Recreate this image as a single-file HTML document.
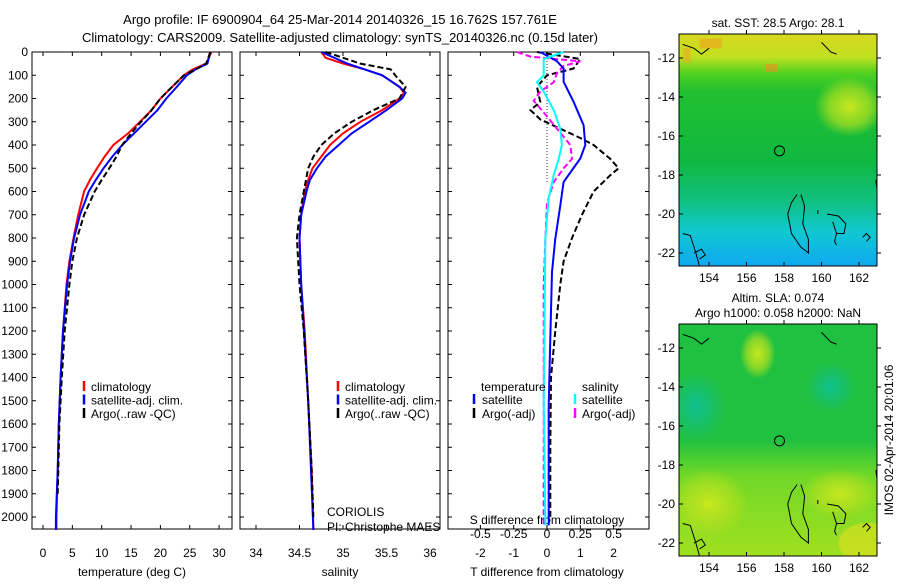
<!DOCTYPE html>
<html><head><meta charset="utf-8"><style>
body{margin:0;background:#fff}
svg{font-family:"Liberation Sans",sans-serif;font-size:12px}
</style></head><body>
<svg id="c" width="900" height="580" viewBox="0 0 900 580">
<defs>
<linearGradient id="sst" x1="0" y1="0" x2="0" y2="1">
<stop offset="0" stop-color="#d8d820"/><stop offset="0.1" stop-color="#c0e020"/><stop offset="0.17" stop-color="#50d020"/>
<stop offset="0.25" stop-color="#20c030"/><stop offset="0.55" stop-color="#10b840"/><stop offset="0.72" stop-color="#10c080"/>
<stop offset="0.85" stop-color="#10c8d0"/><stop offset="1" stop-color="#10a8f0"/></linearGradient>
<radialGradient id="yl1" cx="0.5" cy="0.5" r="0.5"><stop offset="0" stop-color="#c8e820"/><stop offset="0.6" stop-color="#b0e020" stop-opacity="0.7"/><stop offset="1" stop-color="#b0e020" stop-opacity="0"/></radialGradient>
<radialGradient id="tl1" cx="0.5" cy="0.5" r="0.5"><stop offset="0" stop-color="#10c090"/><stop offset="1" stop-color="#10c090" stop-opacity="0"/></radialGradient>
<linearGradient id="sla" x1="0" y1="0" x2="0" y2="1">
<stop offset="0" stop-color="#20c040"/><stop offset="0.5" stop-color="#20c040"/><stop offset="0.65" stop-color="#70d828"/><stop offset="1" stop-color="#a0e020"/></linearGradient>
<clipPath id="mc1"><rect x="679" y="34" width="198" height="232"/></clipPath>
<clipPath id="mc2"><rect x="679" y="324" width="198" height="232"/></clipPath>
</defs>
<g id="titles">
<text x="340" y="24" text-anchor="middle" font-size="13">Argo profile: IF 6900904_64 25-Mar-2014 20140326_15 16.762S 157.761E</text>
<text x="340" y="42" text-anchor="middle" font-size="13">Climatology: CARS2009. Satellite-adjusted climatology: synTS_20140326.nc (0.15d later)</text>
</g>
<g id="p1"></g>
<g id="p2"></g>
<g id="p3"></g>
<g id="maps"></g>
<text transform="translate(893,440) rotate(-90)" text-anchor="middle">IMOS 02-Apr-2014 20:01:06</text>
</svg>
<script>
const depthTicks=[0,100,200,300,400,500,600,700,800,900,1000,1100,1200,1300,1400,1500,1600,1700,1800,1900,2000];
const tTicks=[0,5,10,15,20,25,30];
const sTicks=[34,34.5,35,35.5,36];
const dTTicks=[-2,-1,0,1,2];
const dSTicks=[-0.5,-0.25,0,0.25,0.5];
const dSTickLabels=["-0.5","-0.25","0","0.25","0.5"];
// temperature profiles [depth, T]
const tClim=[[0,28.7],[50,27.8],[75,25.5],[100,24],[150,22],[200,20],[250,18.5],[300,16.5],[350,14.5],[400,12],[450,10.5],[500,9.2],[550,8],[600,7],[700,6],[800,5.2],[900,4.5],[1000,4],[1200,3.4],[1400,3],[1600,2.7],[1800,2.5],[2000,2.3],[2056,2.3]];
const tSat=[[0,28.5],[50,28],[75,26],[100,24.5],[150,22.8],[200,21],[250,19.5],[300,17.5],[350,15.5],[400,13.5],[450,11.8],[500,10.3],[550,9],[600,7.8],[700,6.3],[800,5.3],[900,4.6],[1000,4.1],[1200,3.4],[1400,3],[1600,2.7],[1800,2.5],[2000,2.2],[2056,2.2]];
const tArgo=[[0,28.5],[50,27.8],[75,26],[100,24],[150,22],[200,20],[250,18.5],[300,16.7],[350,15],[400,13.5],[450,12.5],[500,11.3],[550,10],[600,8.8],[700,7],[800,5.8],[900,5],[1000,4.5],[1200,3.7],[1400,3.2],[1600,2.8],[1800,2.6],[1900,2.5]];
const sClim=[[0,34.75],[25,34.8],[50,35],[75,35.25],[100,35.45],[150,35.65],[175,35.7],[200,35.65],[250,35.45],[300,35.2],[350,35],[400,34.85],[450,34.75],[500,34.65],[550,34.6],[600,34.56],[700,34.52],[800,34.5],[1000,34.52],[1200,34.56],[1500,34.6],[1800,34.64],[2056,34.66]];
const sSat=[[0,34.75],[50,35.05],[100,35.45],[150,35.65],[175,35.72],[200,35.68],[250,35.5],[300,35.3],[350,35.1],[400,34.95],[450,34.8],[500,34.7],[550,34.62],[600,34.58],[700,34.52],[800,34.5],[1000,34.52],[1500,34.6],[2056,34.66]];
const sArgo=[[0,34.8],[25,35],[50,35.2],[75,35.55],[100,35.6],[150,35.72],[200,35.65],[250,35.35],[300,35.1],[350,34.9],[400,34.75],[450,34.66],[500,34.6],[600,34.55],[700,34.5],[800,34.47],[1000,34.5],[1200,34.55],[1500,34.6],[1800,34.64],[2000,34.66]];
const dTSat=[[0,-0.2],[40,0.3],[71,0.5],[128,0.5],[214,0.8],[315,1.1],[400,1.15],[458,1],[559,0.5],[660,0.4],[803,0.25],[946,0.15],[1233,0.1],[1520,0.05],[2036,0.05]];
const dTArgo=[[0,-0.3],[30,1],[71,0.8],[100,0],[150,-0.3],[215,-0.2],[250,-0.5],[290,-0.2],[330,0.4],[370,1],[400,1.4],[460,1.9],[500,2.15],[530,1.9],[600,1.4],[700,1.05],[800,0.75],[900,0.5],[1000,0.4],[1200,0.25],[1400,0.12],[1700,0.1],[2000,0.1]];
const dSSat=[[0,0.125],[30,-0.025],[100,-0.025],[130,-0.075],[170,-0.025],[250,0.05],[330,0.1],[400,0.112],[460,0.088],[530,0.05],[630,0.012],[800,-0.012],[1500,-0.025],[2036,-0.012]];
const dSArgo=[[0,-0.225],[20,-0.125],[40,0.25],[60,0.125],[90,0.075],[130,0.05],[170,-0.05],[210,-0.1],[260,-0.025],[330,0.075],[400,0.175],[460,0.188],[500,0.125],[560,0.05],[650,0],[800,-0.012],[1000,-0.025],[1500,-0.025],[2036,-0.025]];

const NS='http://www.w3.org/2000/svg';
function mk(p,t,a){const e=document.createElementNS(NS,t);for(const k in a)e.setAttribute(k,a[k]);p.appendChild(e);return e;}
const TOP=52,BOT=529;
const yD=d=>TOP+d*0.2325;
const xT=v=>43+v*5.87;
const xS=v=>256+(v-34)*87;
const xdT=v=>547+v*33.3;
const xdS=v=>547+v*133.2;
function line(g,data,fx,color,w,dash,name){
  const pts=data.map(p=>fx(p[1]).toFixed(1)+','+yD(p[0]).toFixed(1)).join(' ');
  const e=mk(g,'polyline',{points:pts,fill:'none',stroke:color,'stroke-width':w});
  if(dash)e.setAttribute('stroke-dasharray',dash);
  
  
}
function frame(g,x0,x1,name){
  const r=mk(g,'rect',{x:x0,y:TOP,width:x1-x0,height:BOT-TOP,fill:'none',stroke:'#000','stroke-width':1});
  
  
}
function depthAxis(g,x0,x1,labels){
  depthTicks.forEach(d=>{
    const y=yD(d);
    mk(g,'line',{x1:x0,x2:x0+4,y1:y,y2:y,stroke:'#000'});
    mk(g,'line',{x1:x1,x2:x1-4,y1:y,y2:y,stroke:'#000'});
    if(labels){const t=mk(g,'text',{x:x0-4,y:y+4,'text-anchor':'end'});t.textContent=d;
      
      }
  });
}
function xAxis(g,ticks,fx,labels,yl){
  ticks.forEach((v,i)=>{const x=fx(v);
    mk(g,'line',{x1:x,x2:x,y1:BOT,y2:BOT-4,stroke:'#000'});
    mk(g,'line',{x1:x,x2:x,y1:TOP,y2:TOP+4,stroke:'#000'});
    const t=mk(g,'text',{x:x,y:yl,'text-anchor':'middle'});t.textContent=labels?labels[i]:v;
    
    
  });
}
function txt(g,x,y,s,name,anchor){const t=mk(g,'text',{x:x,y:y,'text-anchor':anchor||'start'});t.textContent=s;
  
  return t;}
function legendMark(g,x,y,color){mk(g,'line',{x1:x,x2:x,y1:y-10,y2:y,stroke:color,'stroke-width':2.5});}

// Panel 1
const p1=document.getElementById('p1');
frame(p1,32,232,'temperature-plot-frame');depthAxis(p1,32,232,true);
xAxis(p1,tTicks,xT,null,557);
txt(p1,132,576,'temperature (deg C)','x-axis-title','middle');
line(p1,tClim,xT,'#f00',2,null,'temperature-climatology-line');
line(p1,tSat,xT,'#00f',2,null,'temperature-satellite-line');
line(p1,tArgo,xT,'#000',2,'6,3','temperature-argo-line');
[['climatology','#f00'],['satellite-adj. clim.','#00f'],['Argo(..raw -QC)','#000']].forEach((l,i)=>{
  legendMark(p1,84,391+i*13.5,l[1]);txt(p1,91,391+i*13.5,l[0],'legend-entry');});

// Panel 2
const p2=document.getElementById('p2');
frame(p2,240,440,'salinity-plot-frame');depthAxis(p2,240,440,false);
xAxis(p2,sTicks,xS,null,557);
txt(p2,340,576,'salinity','x-axis-title','middle');
line(p2,sClim,xS,'#f00',2,null,'salinity-climatology-line');
line(p2,sSat,xS,'#00f',2,null,'salinity-satellite-line');
line(p2,sArgo,xS,'#000',2,'6,3','salinity-argo-line');
[['climatology','#f00'],['satellite-adj. clim.','#00f'],['Argo(..raw -QC)','#000']].forEach((l,i)=>{
  legendMark(p2,338,391+i*13.5,l[1]);txt(p2,345,391+i*13.5,l[0],'legend-entry');});
txt(p2,327,516,'CORIOLIS','data-centre-label');
txt(p2,327,531,'PI: Christophe MAES','pi-label');

// Panel 3
const p3=document.getElementById('p3');
frame(p3,448,649,'difference-plot-frame');depthAxis(p3,448,649,false);
xAxis(p3,dTTicks,xdT,null,557);
txt(p3,547,576,'T difference from climatology','x-axis-title','middle');
txt(p3,547,524,'S difference from climatology','s-axis-title','middle');
dSTicks.forEach((v,i)=>txt(p3,xdS(v),538,dSTickLabels[i],'s-tick-label','middle'));
mk(p3,'line',{x1:547,x2:547,y1:TOP,y2:yD(560),stroke:'#000','stroke-dasharray':'1,2','stroke-width':0.8});
line(p3,dTArgo,xdT,'#000',2,'6,3','dT-argo-line');
line(p3,dSArgo,xdS,'#f0f',2,'6,3','dS-argo-line');
line(p3,dTSat,xdT,'#00f',2,null,'dT-satellite-line');
line(p3,dSSat,xdS,'#0ff',2,null,'dS-satellite-line');
txt(p3,481,391,'temperature','legend-title');txt(p3,582,391,'salinity','legend-title');
legendMark(p3,474,404,'#00f');txt(p3,482,404,'satellite','legend-entry');
legendMark(p3,474,418,'#000');txt(p3,482,418,'Argo(-adj)','legend-entry');
legendMark(p3,575,404,'#0ff');txt(p3,582,404,'satellite','legend-entry');
legendMark(p3,575,418,'#f0f');txt(p3,582,418,'Argo(-adj)','legend-entry');

// Maps
const mp=document.getElementById('maps');
const lonTicks=[154,156,158,160,162];
const latTicks=[-12,-14,-16,-18,-20,-22];
function map(y0,fill,title,extra,name,clip){
  const g=mk(mp,'g',{});
  
  
  const X0=679,X1=877,Y1=y0+232;
  const xL=l=>709+(l-154)*18.75, yL=l=>y0+24+(-12-l)*19.5;
  const inner=mk(g,'g',{'clip-path':'url(#'+clip+')'});
  mk(inner,'rect',{x:X0,y:y0,width:X1-X0,height:232,fill:fill});
  extra(inner,xL,yL);
  const cs=[[[158.7,-19.0],[158.4,-19.4],[158.2,-20.0],[158.4,-21.0],[158.9,-21.7],[159.3,-22.0],[159.3,-21.3],[159.0,-20.5],[159.1,-19.6],[158.9,-19.0]],
    [[160.3,-20.0],[160.9,-20.1],[161.3,-20.5],[161.2,-21.0],[160.8,-21.0],[160.6,-20.4]],
    [[162.2,-21.2],[162.4,-21.0],[162.6,-21.2],[162.4,-21.4]],
    [[163.2,-18.0],[162.9,-18.3],[163.0,-19.0],[163.2,-19.2]],
    [[152.6,-21.0],[153.0,-21.1],[153.3,-22.0],[153.5,-22.7]],
    [[153.2,-22.0],[153.6,-21.8],[153.8,-22.1],[153.5,-22.3]],
    [[152.6,-11.3],[153.2,-11.5],[153.6,-11.8],[154.0,-11.5]],
    [[160.0,-11.2],[160.5,-11.7],[160.8,-11.8]],
    [[159.8,-19.8],[159.8,-20.0]],[[160.8,-21.0],[160.7,-21.4],[160.8,-21.6]]];
  cs.forEach(c=>mk(inner,'polyline',{points:c.map(p=>xL(p[0]).toFixed(1)+','+yL(p[1]).toFixed(1)).join(' '),fill:'none',stroke:'#000','stroke-width':1}));
  mk(g,'circle',{cx:xL(157.76),cy:yL(-16.76),r:5,fill:'none',stroke:'#000','stroke-width':1});
  mk(g,'rect',{x:X0,y:y0,width:X1-X0,height:232,fill:'none',stroke:'#000'});
  lonTicks.forEach(l=>{const x=xL(l);mk(g,'line',{x1:x,x2:x,y1:Y1,y2:Y1-4,stroke:'#000'});mk(g,'line',{x1:x,x2:x,y1:y0,y2:y0-4,stroke:'#000'});
    txt(g,x,Y1+16,l,'longitude-tick-label','middle');});
  latTicks.forEach(l=>{const y=yL(l);mk(g,'line',{x1:X0,x2:X0+4,y1:y,y2:y,stroke:'#000'});mk(g,'line',{x1:X1,x2:X1+4,y1:y,y2:y,stroke:'#000'});
    txt(g,X0-4,y+4,l,'latitude-tick-label','end');});
  title.forEach((t,i)=>txt(g,778,y0-(title.length-1-i)*15-7,t,'map-title','middle'));
}
map(34,'url(#sst)',['sat. SST: 28.5 Argo: 28.1'],(g,xL,yL)=>{
  mk(g,'rect',{x:xL(153.5),y:yL(-11),width:22,height:10,fill:'#f0a020',opacity:0.6});
  mk(g,'rect',{x:xL(157),y:yL(-12.3),width:12,height:8,fill:'#f09020',opacity:0.6});
  mk(g,'rect',{x:xL(152.6),y:yL(-11.5),width:8,height:14,fill:'#f0a020',opacity:0.5});
  mk(g,'ellipse',{cx:xL(161.5),cy:yL(-14.5),rx:35,ry:30,fill:'url(#yl1)'});
},'sst-map','mc1');
map(324,'url(#sla)',['Altim. SLA: 0.074','Argo h1000: 0.058 h2000: NaN'],(g,xL,yL)=>{
  mk(g,'ellipse',{cx:xL(153.3),cy:yL(-15),rx:30,ry:35,fill:'url(#tl1)'});
  mk(g,'ellipse',{cx:xL(160.5),cy:yL(-14),rx:25,ry:25,fill:'url(#tl1)'});
  mk(g,'ellipse',{cx:xL(156.6),cy:yL(-12.3),rx:18,ry:25,fill:'url(#yl1)'});
  mk(g,'ellipse',{cx:xL(154),cy:yL(-20),rx:40,ry:35,fill:'url(#yl1)'});
  mk(g,'ellipse',{cx:xL(161),cy:yL(-19.5),rx:40,ry:25,fill:'url(#yl1)'});
  mk(g,'ellipse',{cx:xL(162.5),cy:yL(-22),rx:30,ry:20,fill:'#e0e020',opacity:0.6});
},'sla-map','mc2');
</script>
</body></html>
